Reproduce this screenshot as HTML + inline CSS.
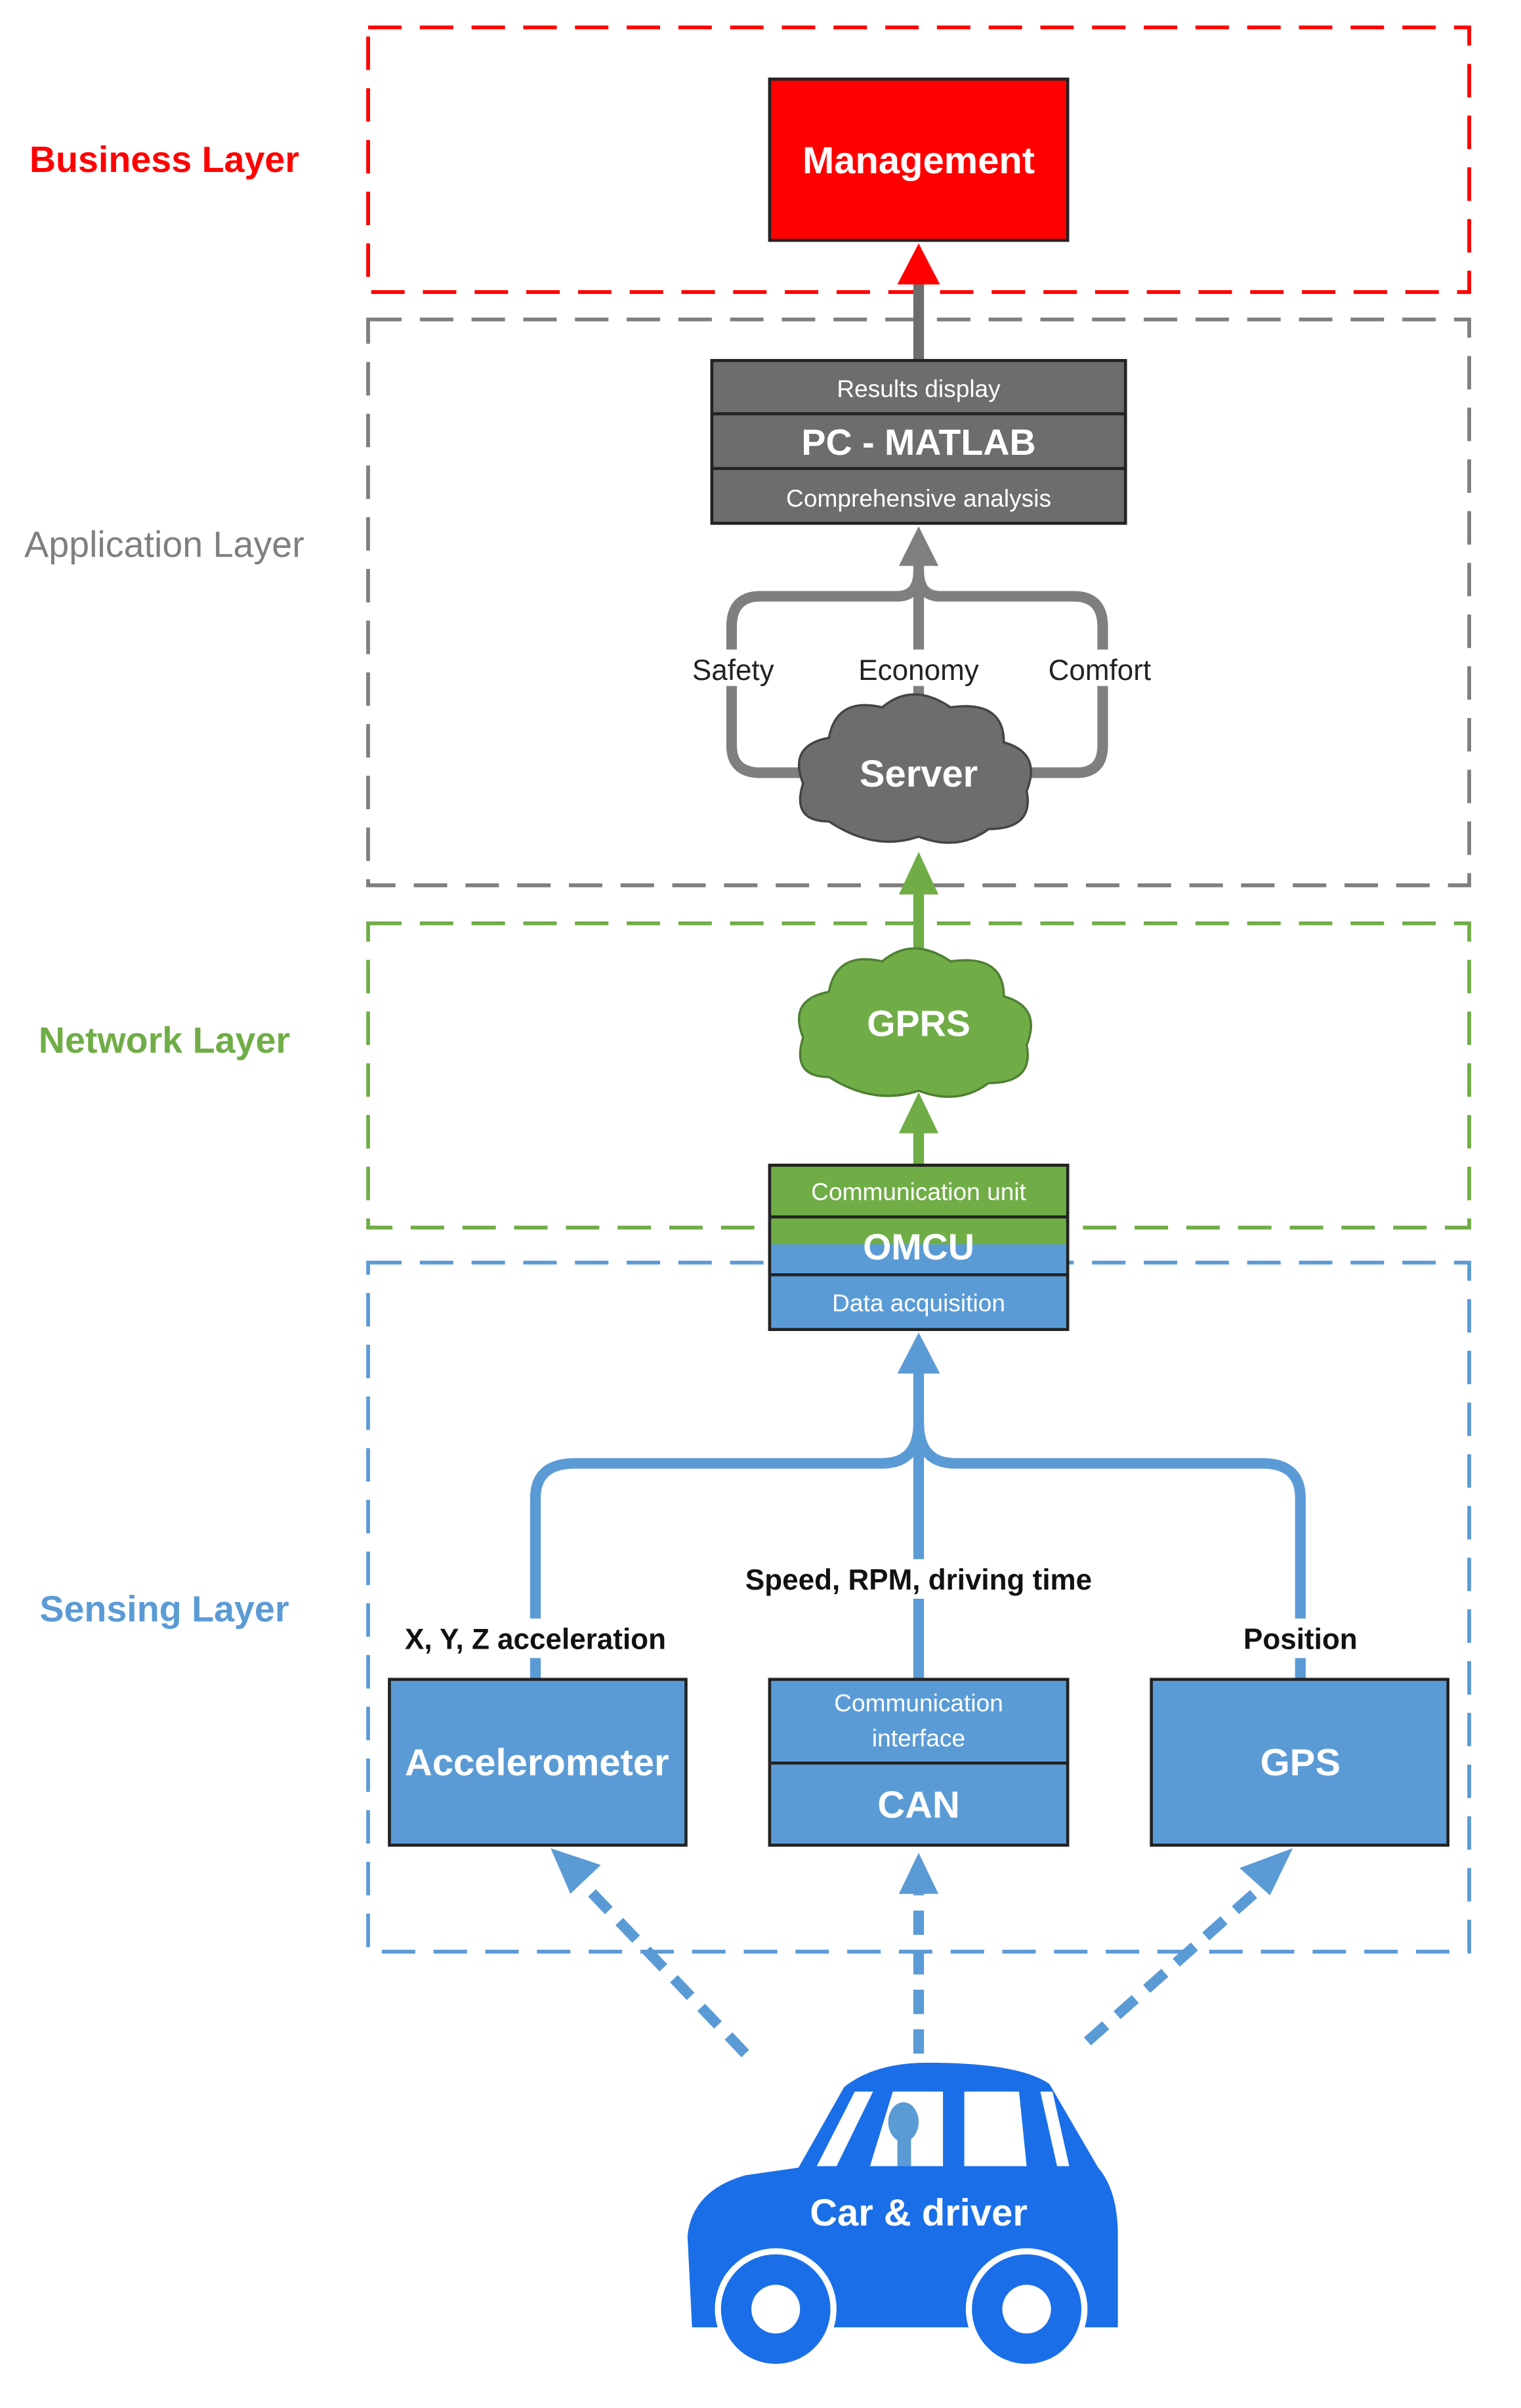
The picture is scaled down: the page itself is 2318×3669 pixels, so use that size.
<!DOCTYPE html>
<html><head><meta charset="utf-8"><style>
html,body{margin:0;padding:0;background:#fff;}
svg{display:block}
text{font-family:"Liberation Sans",sans-serif;}
</style></head><body>
<svg width="2318" height="3669" viewBox="0 0 1000 1583" xmlns="http://www.w3.org/2000/svg">
<rect x="242" y="18" width="724" height="174" fill="none" stroke="#ff0000" stroke-width="2.5" stroke-dasharray="22,12"/>
<rect x="242" y="210" width="724" height="372" fill="none" stroke="#7f7f7f" stroke-width="2.5" stroke-dasharray="22,12"/>
<rect x="242" y="607" width="724" height="200" fill="none" stroke="#70ad47" stroke-width="2.5" stroke-dasharray="22,12"/>
<rect x="242" y="830" width="724" height="453" fill="none" stroke="#5b9bd5" stroke-width="2.5" stroke-dasharray="22,12"/>
<g font-size="24" font-weight="bold" text-anchor="middle">
<text x="108" y="113" fill="#ff0000">Business Layer</text>
<text x="108" y="366" fill="#7f7f7f" font-weight="normal">Application Layer</text>
<text x="108" y="692" fill="#70ad47">Network Layer</text>
<text x="108" y="1066" fill="#5b9bd5">Sensing Layer</text>
</g>
<rect x="506" y="52" width="196" height="106" fill="#ff0000" stroke="#222" stroke-width="2"/>
<text x="604" y="114" fill="#fff" font-size="25" font-weight="bold" text-anchor="middle">Management</text>
<line x1="604" y1="237" x2="604" y2="185" stroke="#6d6d6d" stroke-width="7"/>
<path d="M590,187 L604,160 L618,187 z" fill="#ff0000"/>
<rect x="468" y="237" width="272" height="107" fill="#6d6d6d" stroke="#222" stroke-width="2"/>
<line x1="468" y1="272" x2="740" y2="272" stroke="#222" stroke-width="2"/>
<line x1="468" y1="308" x2="740" y2="308" stroke="#222" stroke-width="2"/>
<text x="604" y="261" fill="#fff" font-size="16" text-anchor="middle">Results display</text>
<text x="604" y="299" fill="#fff" font-size="24" font-weight="bold" text-anchor="middle">PC - MATLAB</text>
<text x="604" y="333" fill="#fff" font-size="16" text-anchor="middle">Comprehensive analysis</text>
<g fill="none" stroke="#7f7f7f" stroke-width="7">
<path d="M535,508 L500,508 Q481,508 481,490 L481,412 Q481,392 500,392 L590,392 Q604,392 604,375"/>
<path d="M673,508 L708,508 Q725,508 725,490 L725,412 Q725,392 706,392 L618,392 Q604,392 604,375"/>
<line x1="604" y1="460" x2="604" y2="370"/>
</g>
<path d="M591,372 L604,346 L617,372 z" fill="#7f7f7f"/>
<rect x="450" y="427" width="65" height="24" fill="#fff"/>
<rect x="560" y="427" width="90" height="24" fill="#fff"/>
<rect x="683" y="427" width="80" height="24" fill="#fff"/>
<g font-size="19" text-anchor="middle" fill="#222">
<text x="482" y="447">Safety</text><text x="604" y="447">Economy</text><text x="723" y="447">Comfort</text>
</g>
<path d="M545,540 Q520,540 528,515 Q518,490 545,485 Q550,458 580,465 Q600,448 625,465 Q660,460 660,488 Q685,495 675,520 Q680,545 650,545 Q630,560 604,550 Q575,560 545,540 z" fill="#6d6d6d" stroke="#444" stroke-width="1.5"/>
<text x="604" y="517" fill="#fff" font-size="25" font-weight="bold" text-anchor="middle">Server</text>
<line x1="604" y1="640" x2="604" y2="585" stroke="#70ad47" stroke-width="7"/>
<path d="M591,588 L604,560 L617,588 z" fill="#70ad47"/>
<line x1="604" y1="766" x2="604" y2="742" stroke="#70ad47" stroke-width="7"/>
<path d="M591,745 L604,718 L617,745 z" fill="#70ad47"/>
<path d="M545,708 Q520,708 528,682 Q518,657 545,652 Q550,625 580,632 Q600,615 625,632 Q660,627 660,655 Q685,662 675,687 Q680,712 650,712 Q630,727 604,717 Q575,727 545,708 z" fill="#70ad47" stroke="#4f7f33" stroke-width="1.5"/>
<text x="604" y="681" fill="#fff" font-size="24" font-weight="bold" text-anchor="middle">GPRS</text>
<rect x="506" y="766" width="196" height="52" fill="#70ad47"/>
<rect x="506" y="818" width="196" height="56" fill="#5b9bd5"/>
<rect x="506" y="766" width="196" height="108" fill="none" stroke="#222" stroke-width="2"/>
<line x1="506" y1="800" x2="702" y2="800" stroke="#222" stroke-width="2"/>
<line x1="506" y1="838" x2="702" y2="838" stroke="#222" stroke-width="2"/>
<text x="604" y="789" fill="#fff" font-size="16" text-anchor="middle">Communication unit</text>
<text x="604" y="828" fill="#fff" font-size="24" font-weight="bold" text-anchor="middle">OMCU</text>
<text x="604" y="862" fill="#fff" font-size="16" text-anchor="middle">Data acquisition</text>
<g fill="none" stroke="#5b9bd5" stroke-width="7">
<line x1="604" y1="1104" x2="604" y2="900"/>
<path d="M352,1104 L352,985 Q352,962 378,962 L580,962 Q604,962 604,935"/>
<path d="M855,1104 L855,985 Q855,962 830,962 L628,962 Q604,962 604,935"/>
</g>
<path d="M590,903 L604,876 L618,903 z" fill="#5b9bd5"/>
<rect x="487" y="1025" width="235" height="26" fill="#fff"/>
<rect x="262" y="1064" width="180" height="26" fill="#fff"/>
<rect x="815" y="1064" width="82" height="26" fill="#fff"/>
<g font-size="19" font-weight="bold" text-anchor="middle" fill="#111">
<text x="604" y="1045">Speed, RPM, driving time</text>
<text x="352" y="1084">X, Y, Z acceleration</text>
<text x="855" y="1084">Position</text>
</g>
<rect x="256" y="1104" width="195" height="109" fill="#5b9bd5" stroke="#222" stroke-width="2"/>
<text x="353" y="1167" fill="#fff" font-size="25" font-weight="bold" text-anchor="middle">Accelerometer</text>
<rect x="506" y="1104" width="196" height="109" fill="#5b9bd5" stroke="#222" stroke-width="2"/>
<line x1="506" y1="1159" x2="702" y2="1159" stroke="#222" stroke-width="2"/>
<text x="604" y="1125" fill="#fff" font-size="16" text-anchor="middle">Communication</text>
<text x="604" y="1148" fill="#fff" font-size="16" text-anchor="middle">interface</text>
<text x="604" y="1195" fill="#fff" font-size="25" font-weight="bold" text-anchor="middle">CAN</text>
<rect x="757" y="1104" width="195" height="109" fill="#5b9bd5" stroke="#222" stroke-width="2"/>
<text x="855" y="1167" fill="#fff" font-size="25" font-weight="bold" text-anchor="middle">GPS</text>
<g stroke="#5b9bd5" stroke-width="7" stroke-dasharray="16,10" fill="none">
<line x1="490" y1="1350" x2="385" y2="1240"/>
<line x1="604" y1="1350" x2="604" y2="1245"/>
<line x1="715" y1="1342" x2="830" y2="1240"/>
</g>
<path d="M362,1215 L395,1226 L375,1245 z" fill="#5b9bd5"/>
<path d="M591,1245 L604,1218 L617,1245 z" fill="#5b9bd5"/>
<path d="M850,1215 L835,1246 L815,1228 z" fill="#5b9bd5"/>
<!-- car -->
<path d="M455,1530 L452,1470 Q455,1440 490,1430 L525,1425 L555,1372 Q575,1356 610,1356 Q670,1356 690,1370 L722,1425 Q735,1440 735,1470 L735,1530 Z" fill="#1a6fe8"/>
<path d="M537,1424 L562,1375 L574,1375 L550,1424 Z" fill="#fff"/>
<path d="M572,1424 L587,1375 L620,1375 L620,1424 Z" fill="#fff"/>
<path d="M634,1375 L670,1375 L675,1424 L634,1424 Z" fill="#fff"/>
<path d="M684,1375 L692,1375 L703,1424 L695,1424 Z" fill="#fff"/>
<rect x="590" y="1405" width="9" height="19" fill="#5b9bd5"/>
<ellipse cx="594" cy="1395" rx="10" ry="13" fill="#5b9bd5"/>
<circle cx="510" cy="1518" r="38" fill="#1a6fe8" stroke="#fff" stroke-width="4"/>
<circle cx="510" cy="1518" r="16" fill="#fff"/>
<circle cx="675" cy="1518" r="38" fill="#1a6fe8" stroke="#fff" stroke-width="4"/>
<circle cx="675" cy="1518" r="16" fill="#fff"/>
<text x="604" y="1463" fill="#fff" font-size="25" font-weight="bold" text-anchor="middle">Car &amp; driver</text>
</svg>
</body></html>
